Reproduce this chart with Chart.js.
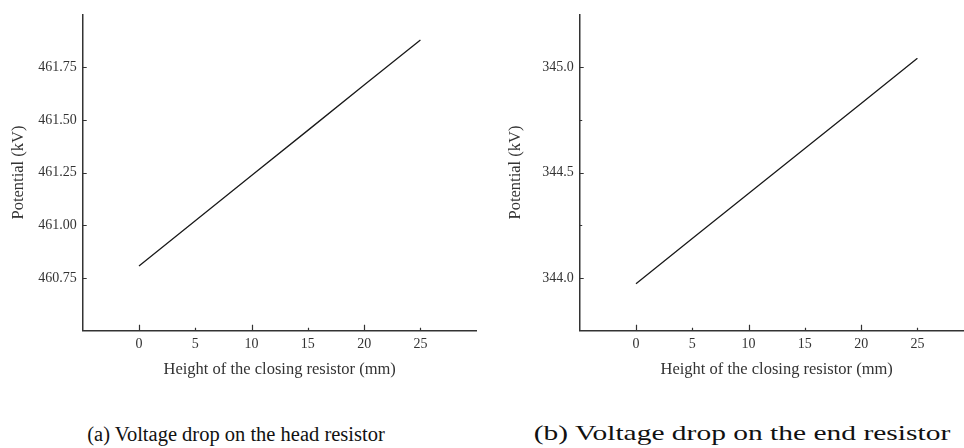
<!DOCTYPE html>
<html>
<head>
<meta charset="utf-8">
<script src="https://cdn.jsdelivr.net/npm/chart.js@4.4.1/dist/chart.umd.min.js"></script>
<style>
  html, body { margin: 0; padding: 0; background: #fff; }
  body { width: 964px; height: 448px; overflow: hidden; position: relative; }
  .box { position: absolute; top: 0; width: 480px; height: 395px; }
  .cap { position: absolute; font-family: 'Liberation Serif', 'Times New Roman', serif;
         line-height: 26px; color: #111; white-space: nowrap; }
</style>
</head>
<body>
<div class="box" style="left:0px"><canvas id="ca"></canvas></div>
<div class="box" style="left:496.6px"><canvas id="cb"></canvas></div>
<div class="cap" style="left:236px; top:421px; font-size:20.5px; transform: translateX(-50%);">(a) Voltage drop on the head resistor</div>
<div class="cap" style="left:742px; top:420px; font-size:22px; transform: translateX(-50%) scaleX(1.34);">(b) Voltage drop on the end resistor</div>
<script>
// ---- data ----
const heights = [0, 5, 10, 15, 20, 25];                         // mm
const potentialHead = [460.807, 461.021, 461.236, 461.450, 461.665, 461.879]; // kV
const potentialEnd  = [343.973, 344.187, 344.401, 344.614, 344.828, 345.042]; // kV
const xTickValues = [0, 5, 10, 15, 20, 25];
const xMajorTicks = [0, 10, 20];
const yTicksHead = [460.75, 461.00, 461.25, 461.50, 461.75];
const yTicksEnd = [344.0, 344.5, 345.0];
const yMinorEnd = [344.25, 344.75];
const xTitle = 'Height of the closing resistor (mm)';
const yTitle = 'Potential (kV)';

const SERIF = "'Liberation Serif', 'Times New Roman', serif";
const AXIS_COLOR = '#333';

const inwardTicks = {
  id: 'inwardTicks',
  afterDraw(chart, args, opts) {
    const ctx = chart.ctx;
    const xs = chart.scales.x, ys = chart.scales.y;
    const bottom = chart.chartArea.bottom, left = chart.chartArea.left;
    ctx.save();
    ctx.strokeStyle = AXIS_COLOR;
    ctx.lineWidth = 1.2;
    ctx.beginPath();
    xTickValues.forEach(v => {
      const px = Math.round(xs.getPixelForValue(v)) + 0.5;
      const len = xMajorTicks.includes(v) ? 6 : 3;
      ctx.moveTo(px, bottom); ctx.lineTo(px, bottom - len);
    });
    opts.yMajor.forEach(v => {
      const py = Math.round(ys.getPixelForValue(v)) + 0.5;
      ctx.moveTo(left, py); ctx.lineTo(left + 4, py);
    });
    (opts.yMinor || []).forEach(v => {
      const py = Math.round(ys.getPixelForValue(v)) + 0.5;
      ctx.moveTo(left, py); ctx.lineTo(left + 2.5, py);
    });
    ctx.stroke();
    ctx.restore();
  }
};

function makeChart(id, values, yMin, yMax, yTicks, yMinor, decimals) {
  return new Chart(document.getElementById(id), {
    type: 'line',
    data: {
      datasets: [{
        data: heights.map((h, i) => ({ x: h, y: values[i] })),
        borderColor: '#1a1a1a',
        borderWidth: 1.3,
        pointRadius: 0,
        fill: false,
        tension: 0
      }]
    },
    options: {
      responsive: true,
      maintainAspectRatio: false,
      animation: false,
      events: [],
      layout: { padding: { top: 13, right: 3.3, left: 0, bottom: 0 } },
      plugins: {
        legend: { display: false },
        tooltip: { enabled: false },
        inwardTicks: { yMajor: yTicks, yMinor: yMinor }
      },
      scales: {
        x: {
          type: 'linear',
          min: -5, max: 30,
          afterBuildTicks: s => { s.ticks = xTickValues.map(v => ({ value: v })); },
          afterFit: s => { s.height = 64.3; },
          grid: { display: false, drawTicks: false },
          border: { display: true, color: AXIS_COLOR, width: 1.5 },
          ticks: {
            padding: 5,
            maxRotation: 0,
            color: '#333',
            font: { family: SERIF, size: 14 },
            callback: v => String(v)
          },
          title: {
            display: true, text: xTitle, color: '#333',
            font: { family: SERIF, size: 16.5 },
            padding: { top: 0, bottom: 15 }
          }
        },
        y: {
          type: 'linear',
          min: yMin, max: yMax,
          afterBuildTicks: s => { s.ticks = yTicks.map(v => ({ value: v })); },
          afterFit: s => { s.width = 82.7; },
          grid: { display: false, drawTicks: false },
          border: { display: true, color: AXIS_COLOR, width: 1.5 },
          ticks: {
            padding: 6,
            color: '#333',
            font: { family: SERIF, size: 14 },
            callback: v => Number(v).toFixed(decimals)
          },
          title: {
            display: true, text: yTitle, color: '#333',
            font: { family: SERIF, size: 16.5 },
            padding: { top: 9, bottom: 9 }
          }
        }
      }
    },
    plugins: [inwardTicks]
  });
}

makeChart('ca', potentialHead, 460.5, 462.0, yTicksHead, [], 2);
makeChart('cb', potentialEnd, 343.75, 345.25, yTicksEnd, yMinorEnd, 1);
</script>
</body>
</html>
